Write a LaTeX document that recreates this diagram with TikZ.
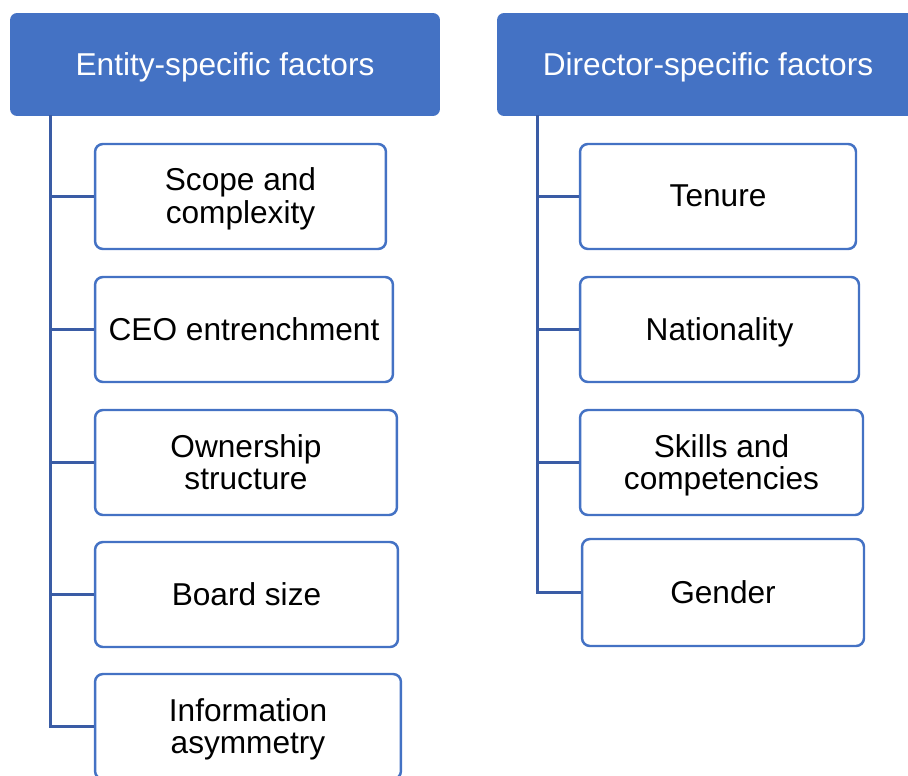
\documentclass[tikz,border=0pt]{standalone}
\usepackage{fontspec}
\setmainfont{Liberation Sans}
\definecolor{hdrblue}{HTML}{4472C4}
\definecolor{linkblue}{HTML}{3A5CA5}

\begin{document}
\begin{tikzpicture}[
    x=0.02cm, y=-0.02cm,
    header/.style={fill=hdrblue, rounded corners=4pt, text=white,
        font=\fontsize{18}{19}\selectfont, minimum height=2.06cm},
    factor/.style={draw=hdrblue, line width=1.4pt, rounded corners=4.5pt,
        fill=white, align=center, font=\fontsize{18}{18.5}\selectfont,
        text depth=0.08em, minimum height=2.1cm},
    link/.style={draw=linkblue, line width=1.7pt}
]
\useasboundingbox (0,0) rectangle (908,776);

% column headers
\node[header, minimum width=8.6cm] (entity) at (225,64.5) {};
\node[text=white, font=\fontsize{18}{19}\selectfont, text depth=0.08em]
    (entlabel) at (225,64.5) {Entity-specific factors};
\node[header, minimum width=8.36cm] (director) at (706,64.5) {};
\node[text=white, font=\fontsize{18}{19}\selectfont, text depth=0.08em]
    (dirlabel) at (708,64.5) {Director-specific factors};

% entity-specific factors
\node[factor, minimum width=5.82cm] (e1) at (240.5,196.5) {Scope and\\complexity};
\node[factor, minimum width=5.96cm] (e2) at (244,329.5) {CEO entrenchment};
\node[factor, minimum width=6.04cm] (e3) at (246,462.5) {Ownership\\structure};
\node[factor, minimum width=6.06cm] (e4) at (246.5,594.5) {Board size};
\node[factor, minimum width=6.12cm] (e5) at (248,726.5) {Information\\asymmetry};

% director-specific factors
\node[factor, minimum width=5.52cm] (d1) at (718,196.5) {Tenure};
\node[factor, minimum width=5.58cm] (d2) at (719.5,329.5) {Nationality};
\node[factor, minimum width=5.66cm] (d3) at (721.5,462.5) {Skills and\\competencies};
\node[factor, minimum width=5.64cm, minimum height=2.14cm] (d4) at (723,592.5) {Gender};

% connectors
\coordinate (etop) at (50.5,115);
\coordinate (dtop) at (537.5,115);
\draw[link] (etop) |- (e5.west);
\foreach \n in {e1,e2,e3,e4}
    \draw[link] (etop |- \n.west) -- (\n.west);
\draw[link] (dtop) |- (d4.west);
\foreach \n in {d1,d2,d3}
    \draw[link] (dtop |- \n.west) -- (\n.west);
\end{tikzpicture}
\end{document}
